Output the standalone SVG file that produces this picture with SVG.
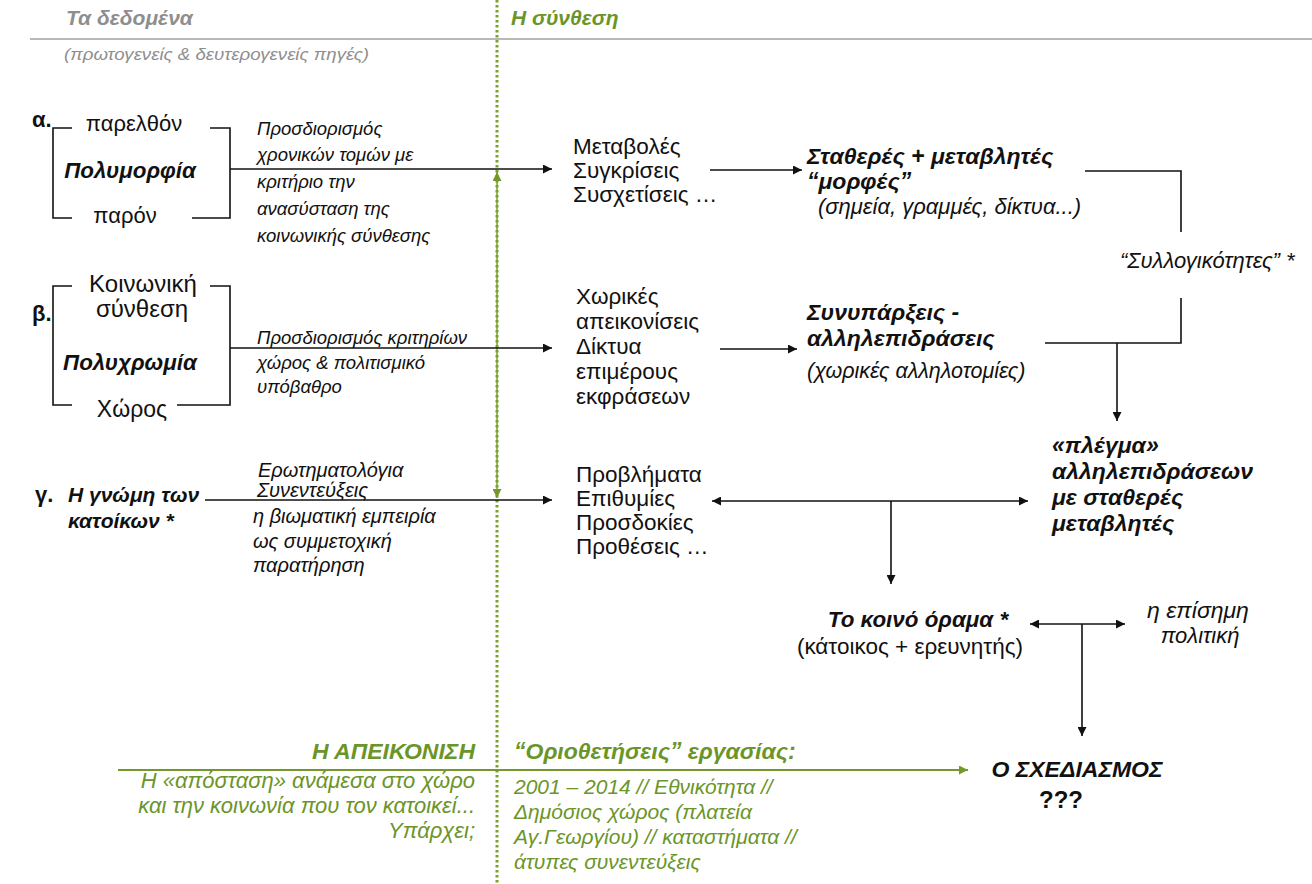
<svg xmlns="http://www.w3.org/2000/svg" width="1312" height="884" viewBox="0 0 1312 884">
<defs>
<marker id="ah" viewBox="0 0 10 10" refX="10" refY="5" markerWidth="11" markerHeight="9" markerUnits="userSpaceOnUse" orient="auto-start-reverse"><path d="M0,0 L10,5 L0,10 z" fill="#111"/></marker>
<marker id="ag" viewBox="0 0 10 10" refX="10" refY="5" markerWidth="11" markerHeight="9" markerUnits="userSpaceOnUse" orient="auto-start-reverse"><path d="M0,0 L10,5 L0,10 z" fill="#72992a"/></marker>
<style>
text{font-family:"Liberation Sans",Arial,sans-serif;fill:#111}
.r{font-size:22.5px}
.rl{font-size:22px}
.i{font-size:18.5px;font-style:italic}
.ic{font-size:20px;font-style:italic}
.ir{font-size:22px;font-style:italic}
.ig{font-size:21px;font-style:italic}
.bi{font-size:21px;font-style:italic;font-weight:bold}
.bl{font-size:22.4px;font-style:italic;font-weight:bold}
.br{font-size:23px;font-style:italic;font-weight:bold}
.lab{font-size:22px;font-weight:bold}
.gray{fill:#8e8e8e}
.grn{fill:#6b9528}
.ln{stroke:#111;stroke-width:1.6;fill:none}
.c{text-anchor:middle}
.e{text-anchor:end}
</style>
</defs>
<rect width="1312" height="884" fill="#fff"/>

<g id="header">
<text x="66" y="25" class="bi gray">Τα δεδομένα</text>
<line x1="30" y1="39" x2="1312" y2="39" stroke="#b8b8b8" stroke-width="2"/>
<text x="64" y="60" class="gray" style="font-size:17px;font-style:italic" textLength="305" lengthAdjust="spacingAndGlyphs">(πρωτογενείς &amp; δευτερογενείς πηγές)</text>
<text x="511" y="25" class="bi grn">Η σύνθεση</text>
</g>

<g id="divider">
<line x1="497" y1="0" x2="497" y2="884" stroke="#7aa22e" stroke-width="3" stroke-dasharray="2.5 2.5"/>
<line x1="497" y1="172" x2="497" y2="498" stroke="#7aa22e" stroke-width="1.5" marker-start="url(#ag)" marker-end="url(#ag)"/>
</g>

<g id="node-a">
<text x="32" y="127" class="lab">α.</text>
<path class="ln" d="M72,128 H53 V218 H72 M210,128 H230 V218 H192"/>
<text x="134" y="131" class="rl c">παρελθόν</text>
<text x="130" y="178" class="bl c">Πολυμορφία</text>
<text x="125" y="223" class="rl c">παρόν</text>
</g>
<g id="label-a">
<text x="257" y="135" class="i">Προσδιορισμός</text>
<text x="257" y="161" class="i">χρονικών τομών με</text>
<text x="257" y="188" class="i">κριτήριο την</text>
<text x="257" y="215" class="i">ανασύσταση  της</text>
<text x="257" y="242" class="i">κοινωνικής σύνθεσης</text>
</g>

<g id="node-b">
<text x="32" y="321" class="lab">β.</text>
<path class="ln" d="M72,286 H53 V405 H72 M210,286 H230 V405 H177"/>
<text x="143" y="292" class="c" style="font-size:24px">Κοινωνική</text>
<text x="142" y="317" class="c" style="font-size:24px">σύνθεση</text>
<text x="130" y="370" class="bl c">Πολυχρωμία</text>
<text x="132" y="417" class="c" style="font-size:23px">Χώρος</text>
</g>
<g id="label-b">
<text x="257" y="344" class="i">Προσδιορισμός κριτηρίων</text>
<text x="257" y="369" class="i">χώρος  &amp; πολιτισμικό</text>
<text x="257" y="393" class="i">υπόβαθρο</text>
</g>

<g id="node-c">
<text x="35" y="502" class="lab">γ.</text>
<text x="68" y="502" class="bi">Η γνώμη των</text>
<text x="68" y="528" class="bi">κατοίκων *</text>
</g>
<g id="label-c">
<text x="258" y="477" class="ic">Ερωτηματολόγια</text>
<text x="257" y="497" class="ic">Συνεντεύξεις</text>
<text x="253" y="523" class="ic">η βιωματική εμπειρία</text>
<text x="253" y="548" class="ic">ως συμμετοχική</text>
<text x="253" y="572" class="ic">παρατήρηση</text>
</g>

<g id="mid-a">
<text x="573" y="154" class="r">Μεταβολές</text>
<text x="573" y="178" class="r">Συγκρίσεις</text>
<text x="573" y="202" class="r">Συσχετίσεις …</text>
</g>
<g id="mid-b">
<text x="576" y="304" class="r">Χωρικές</text>
<text x="576" y="329" class="r">απεικονίσεις</text>
<text x="576" y="354" class="r">Δίκτυα</text>
<text x="576" y="379" class="r">επιμέρους</text>
<text x="576" y="404" class="r">εκφράσεων</text>
</g>
<g id="mid-c">
<text x="576" y="482" class="r">Προβλήματα</text>
<text x="576" y="506" class="r">Επιθυμίες</text>
<text x="576" y="530" class="r">Προσδοκίες</text>
<text x="576" y="554" class="r">Προθέσεις …</text>
</g>

<g id="forms">
<text x="807" y="164" class="br">Σταθερές + μεταβλητές</text>
<text x="807" y="189" class="br">“μορφές”</text>
<text x="818" y="214" class="ir">(σημεία, γραμμές, δίκτυα...)</text>
</g>
<g id="collectives">
<text x="1120" y="268" class="ir">“Συλλογικότητες” *</text>
</g>
<g id="coexist">
<text x="807" y="320" class="br">Συνυπάρξεις -</text>
<text x="807" y="346" class="br">αλληλεπιδράσεις</text>
<text x="807" y="378" class="ir" style="font-size:21.5px">(χωρικές αλληλοτομίες)</text>
</g>
<g id="grid">
<text x="1052" y="453" class="br">«πλέγμα»</text>
<text x="1052" y="479" class="br">αλληλεπιδράσεων</text>
<text x="1052" y="505" class="br">με σταθερές</text>
<text x="1052" y="531" class="br">μεταβλητές</text>
</g>
<g id="vision">
<text x="918" y="627" class="bl c">Το κοινό όραμα *</text>
<text x="910" y="654" class="c" style="font-size:22.5px">(κάτοικος + ερευνητής)</text>
</g>
<g id="policy">
<text x="1198" y="618" class="ir c" style="font-size:23px">η επίσημη</text>
<text x="1200" y="643" class="ir c">πολιτική</text>
</g>
<g id="design">
<text x="1077" y="777" class="br c">Ο ΣΧΕΔΙΑΣΜΟΣ</text>
<text x="1061" y="808" class="c" style="font-size:24px;font-weight:bold">???</text>
</g>

<g id="bottom-left">
<text x="475" y="759" class="br grn e">Η ΑΠΕΙΚΟΝΙΣΗ</text>
<text x="475" y="788" class="ir grn e">Η «απόσταση» ανάμεσα στο χώρο</text>
<text x="475" y="813" class="ir grn e">και την κοινωνία που τον κατοικεί...</text>
<text x="475" y="838" class="ir grn e">Υπάρχει;</text>
</g>
<g id="bottom-right">
<text x="514" y="759" class="br grn">“Οριοθετήσεις” εργασίας:</text>
<text x="514" y="794" class="ig grn">2001 – 2014 // Εθνικότητα //</text>
<text x="514" y="819" class="ig grn">Δημόσιος χώρος (πλατεία</text>
<text x="514" y="844" class="ig grn">Αγ.Γεωργίου) // καταστήματα //</text>
<text x="514" y="869" class="ig grn">άτυπες συνεντεύξεις</text>
</g>

<g id="connectors">
<line class="ln" x1="230" y1="169" x2="552" y2="169" marker-end="url(#ah)"/>
<line class="ln" x1="230" y1="348" x2="552" y2="348" marker-end="url(#ah)"/>
<line class="ln" x1="205" y1="500" x2="552" y2="500" marker-end="url(#ah)"/>
<line class="ln" x1="710" y1="170" x2="802" y2="170" marker-end="url(#ah)"/>
<line class="ln" x1="720" y1="349" x2="797" y2="349" marker-end="url(#ah)"/>
<path class="ln" d="M1085,171 H1181 V232"/>
<path class="ln" d="M1181,298 V343 H1045"/>
<line class="ln" x1="1117" y1="343" x2="1117" y2="421" marker-end="url(#ah)"/>
<line class="ln" x1="712" y1="501" x2="1028" y2="501" marker-start="url(#ah)" marker-end="url(#ah)"/>
<line class="ln" x1="891" y1="501" x2="891" y2="584" marker-end="url(#ah)"/>
<line class="ln" x1="1030" y1="624" x2="1125" y2="624" marker-start="url(#ah)" marker-end="url(#ah)"/>
<line class="ln" x1="1082" y1="624" x2="1082" y2="736" marker-end="url(#ah)"/>
<line x1="118" y1="770" x2="968" y2="770" stroke="#72992a" stroke-width="2" marker-end="url(#ag)"/>
</g>
</svg>
